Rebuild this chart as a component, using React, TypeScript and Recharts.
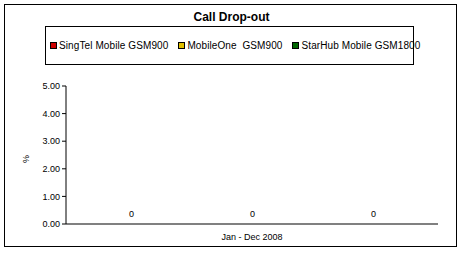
import { BarChart, Bar, XAxis, YAxis } from "recharts"

const categories = ["Jan - Dec 2008"]
const seriesNames = ["SingTel Mobile GSM900", "MobileOne  GSM900", "StarHub Mobile GSM1800"]
const seriesKeys = ["singtel", "mobileOne", "starHub"]
const singtel = [0]
const mobileOne = [0]
const starHub = [0]
const yTicks = [0, 1, 2, 3, 4, 5]

const colors = ["#cc0000", "#e0c000", "#006600"]

const data = categories.map((name, i) => ({
  name,
  singtel: singtel[i],
  mobileOne: mobileOne[i],
  starHub: starHub[i],
}))

const font = "'Liberation Sans', Arial, sans-serif"

// bar with its value written above it (values are 0 here so the rect is flat)
function BarWithValue(props: any) {
  const { x, y, width, height, fill, value } = props
  const v = Array.isArray(value) ? value[1] - value[0] : value
  return (
    <g>
      {height > 0 && <rect x={x} y={y} width={width} height={height} fill={fill} />}
      <text x={x + width / 2} y={y - 7} textAnchor="middle" fontSize={9} fontFamily={font} fill="#000">
        {v}
      </text>
    </g>
  )
}

function LegendBox() {
  return (
    <div
      style={{
        position: "absolute",
        left: 45,
        top: 26,
        border: "1px solid #000",
        width: 369,
        height: 39,
        boxSizing: "border-box",
        display: "flex",
        alignItems: "center",
        paddingLeft: 4,
        fontFamily: font,
        fontSize: 10,
        color: "#000",
        background: "#fff",
      }}
    >
      {seriesNames.map((n, i) => (
        <span key={n} style={{ display: "flex", alignItems: "center", marginRight: i < 2 ? 10 : 0 }}>
          <span
            style={{
              display: "inline-block",
              width: 5,
              height: 5,
              background: colors[i],
              border: "1px solid #000",
              marginRight: 2,
            }}
          />
          <span style={{ whiteSpace: "pre", letterSpacing: 0.1 }}>{n}</span>
        </span>
      ))}
    </div>
  )
}

export default function App() {
  return (
    <div style={{ position: "absolute", left: 0, top: 0, width: 472, height: 256, background: "#fff" }}>
      <div
        style={{
          position: "absolute",
          left: 4,
          top: 4,
          width: 453,
          height: 243,
          border: "1px solid #000",
          boxSizing: "border-box",
        }}
      />
      <div
        style={{
          position: "absolute",
          left: 0,
          top: 10,
          width: 463,
          textAlign: "center",
          fontFamily: font,
          fontWeight: "bold",
          fontSize: 12,
          color: "#000",
        }}
      >
        Call Drop-out
      </div>
      <LegendBox />
      <BarChart
        width={472}
        height={256}
        data={data}
        margin={{ top: 86, right: 34, left: 36, bottom: 12 }}
        barCategoryGap={5}
        barGap={0}
        style={{ position: "absolute", left: 0, top: 0 }}
      >
        <XAxis
          dataKey="name"
          height={20}
          axisLine={{ stroke: "#808080", strokeWidth: 2 }}
          tickLine={false}
          tickSize={0}
          tickMargin={10}
          tick={{ fontSize: 9, fill: "#000", fontFamily: font }}
        />
        <YAxis
          width={30}
          domain={[0, 5]}
          ticks={yTicks}
          interval={0}
          tickFormatter={(v: number) => v.toFixed(2)}
          axisLine={{ stroke: "#000" }}
          tickLine={{ stroke: "#000" }}
          tickSize={4}
          tickMargin={2}
          tick={{ fontSize: 9, fill: "#000", fontFamily: font }}
          label={{ value: "%", angle: -90, position: "left", offset: 10, fontSize: 9, fill: "#000", fontFamily: font }}
        />
        {seriesKeys.map((k, i) => (
          <Bar
            key={k}
            dataKey={k}
            name={seriesNames[i]}
            fill={colors[i]}
            shape={<BarWithValue />}
            isAnimationActive={false}
          />
        ))}
      </BarChart>
    </div>
  )
}
